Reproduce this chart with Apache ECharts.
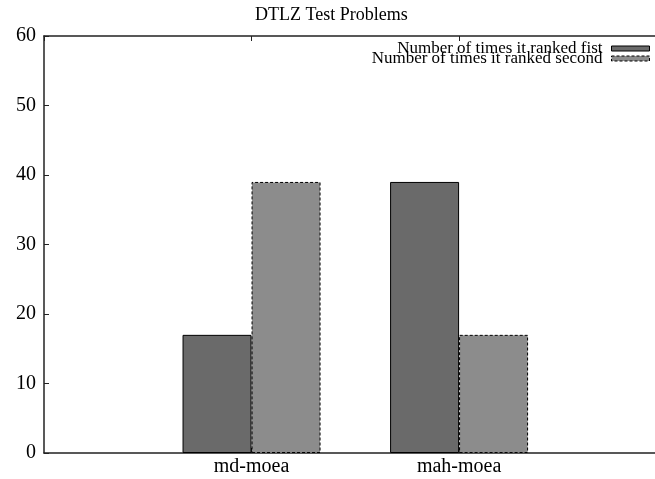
<!DOCTYPE html>
<html>
<head>
<meta charset="utf-8">
<script src="https://cdn.jsdelivr.net/npm/echarts@6/dist/echarts.min.js"></script>
<style>
  html, body { margin: 0; padding: 0; background: #fff; overflow: hidden; }
  #chart { width: 655px; height: 479px; }
</style>
</head>
<body>
<div id="chart"></div>
<script>
// Algorithms compared on the DTLZ suite
const categories = ['md-moea', 'mah-moea'];
// How often each algorithm came out first / second
const rankedFirst = [17, 39];
const rankedSecond = [39, 17];
const seriesNames = ['Number of times it ranked fist', 'Number of times it ranked second'];

const FONT = '"Liberation Serif", "DejaVu Serif", serif';

// Category i sits at x = i + 1 on a numeric axis so the gaps at the sides can differ
const toPoints = vals => vals.map((v, i) => [i + 1, v]);

const chart = echarts.init(document.getElementById('chart'), null, { renderer: 'canvas' });

const axisLineStyle = { color: '#222', width: 1.5 };
const tickStyle = { show: true, inside: true, length: 5, lineStyle: { color: '#222', width: 1 } };

const firstStyle = { color: '#6a6a6a', borderColor: '#000', borderWidth: 1 };
const secondStyle = { color: '#8c8c8c', borderColor: '#000', borderWidth: 1, borderType: [3, 2] };

chart.setOption({
  animation: false,
  backgroundColor: '#fff',
  textStyle: { fontFamily: FONT, color: '#000' },
  title: {
    text: 'DTLZ Test Problems',
    left: 250,
    top: 1,
    textStyle: { fontFamily: FONT, fontSize: 18, fontWeight: 'normal', color: '#000' }
  },
  legend: {
    orient: 'vertical',
    align: 'right',
    right: 0,
    top: 35,
    itemWidth: 38,
    itemHeight: 5,
    itemGap: -7,
    textStyle: { fontFamily: FONT, fontSize: 17, color: '#000', padding: [0, 4, 0, 0] },
    data: [
      { name: seriesNames[0], icon: 'rect', itemStyle: firstStyle },
      { name: seriesNames[1], icon: 'rect', itemStyle: secondStyle }
    ]
  },
  grid: { left: 44, right: 0, top: 36, bottom: 26, containLabel: false },
  xAxis: [
    {
      type: 'value',
      position: 'bottom',
      min: 0,
      max: 2.944,
      interval: 1,
      splitLine: { show: false },
      axisLine: { show: true, lineStyle: axisLineStyle },
      axisTick: tickStyle,
      axisLabel: {
        showMinLabel: false,
        showMaxLabel: false,
        fontFamily: FONT,
        fontSize: 20,
        color: '#000',
        margin: 4,
        formatter: v => categories[Math.round(v) - 1] || ''
      }
    },
    {
      type: 'value',
      position: 'top',
      min: 0,
      max: 2.944,
      interval: 1,
      splitLine: { show: false },
      axisLine: { show: true, onZero: false, lineStyle: axisLineStyle },
      axisTick: tickStyle,
      axisLabel: { show: false }
    }
  ],
  yAxis: {
    type: 'value',
    min: 0,
    max: 60,
    interval: 10,
    splitLine: { show: false },
    axisLine: { show: true, onZero: false, lineStyle: axisLineStyle },
    axisTick: tickStyle,
    axisLabel: { fontFamily: FONT, fontSize: 20, color: '#000', margin: 8 }
  },
  series: [
    {
      name: seriesNames[0],
      type: 'bar',
      xAxisIndex: 0,
      barWidth: 69,
      barGap: '0%',
      itemStyle: firstStyle,
      data: toPoints(rankedFirst)
    },
    {
      name: seriesNames[1],
      type: 'bar',
      xAxisIndex: 0,
      barWidth: 69,
      barGap: '0%',
      itemStyle: secondStyle,
      data: toPoints(rankedSecond)
    }
  ]
});
</script>
</body>
</html>
